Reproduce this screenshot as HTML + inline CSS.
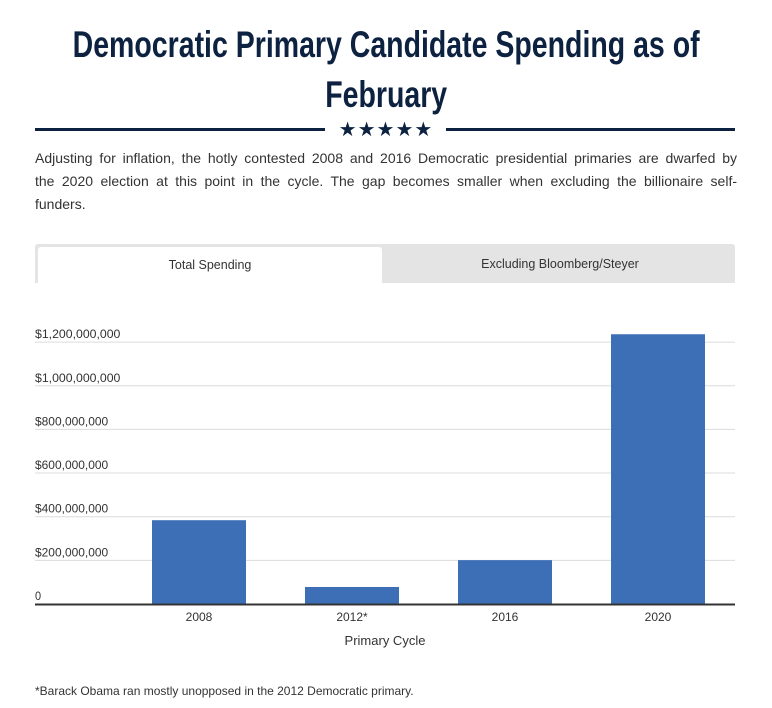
<!DOCTYPE html>
<html><head><meta charset="utf-8"><style>
body{margin:0;background:#fff;width:772px;height:708px;overflow:hidden;font-family:"Liberation Sans",sans-serif;}
.t{position:absolute;left:-200px;width:1172px;text-align:center;font-weight:bold;font-size:37px;line-height:46px;color:#0d2240;white-space:nowrap}
.t span{display:inline-block;transform:scaleX(0.77);transform-origin:center}
.rule{position:absolute;top:128px;height:3px;background:#0d2240}
.stars{position:absolute;left:330px;width:112px;top:117px;text-align:center;color:#0d2240;font-size:20px;letter-spacing:1px}
.dl{position:absolute;left:35px;width:702px;font-size:14px;line-height:23px;color:#333;text-align:justify;text-align-last:justify;white-space:nowrap}
.tabs{position:absolute;left:35px;top:244px;width:700px;height:39px;background:#e4e4e4;border-radius:3px 3px 0 0}
.tab{position:absolute;top:0;height:39px;line-height:40px;text-align:center;font-size:12.5px;color:#333}
.foot{position:absolute;left:35px;top:684px;font-size:12px;color:#333}
</style></head><body>
<div>
<div class="t" style="top:22px"><span>Democratic Primary Candidate Spending as of</span></div>
<div class="t" style="top:72px"><span>February</span></div>
</div>
<div class="rule" style="left:35px;width:290px"></div>
<div class="stars">★★★★★</div>
<div class="rule" style="left:446px;width:289px"></div>
<div>
<div class="dl" style="top:147px">Adjusting for inflation, the hotly contested 2008 and 2016 Democratic presidential primaries are dwarfed by</div>
<div class="dl" style="top:170px">the 2020 election at this point in the cycle. The gap becomes smaller when excluding the billionaire self-</div>
<div class="dl" style="top:193px;text-align-last:left">funders.</div>
</div>
<div class="tabs">
<div class="tab" style="left:3px;width:344px;top:3px;height:36px;line-height:36px;background:#fff;border-radius:3px 3px 0 0">Total Spending</div>
<div class="tab" style="left:350px;width:350px">Excluding Bloomberg/Steyer</div>
</div>
<svg id="chart" width="772" height="708" style="position:absolute;left:0;top:0"></svg>
<div class="foot">*Barack Obama ran mostly unopposed in the 2012 Democratic primary.</div>
<script>
const categories=["2008","2012*","2016","2020"];
const values=[384000000,78000000,201000000,1236000000];
const ticks=[0,200000000,400000000,600000000,800000000,1000000000,1200000000];
const tickLabels=["0","$200,000,000","$400,000,000","$600,000,000","$800,000,000","$1,000,000,000","$1,200,000,000"];
const svg=document.getElementById('chart');
const NS='http://www.w3.org/2000/svg';
const y0=604,pxPer=43.65/200000000;
const y=v=>y0-v*pxPer;
const bandStart=122.5,band=153,barW=94;
const x=i=>bandStart+i*band+band/2;
function mk(t,a){const e=document.createElementNS(NS,t);for(const k in a)e.setAttribute(k,a[k]);svg.appendChild(e);return e;}
ticks.forEach((t,i)=>{
 if(i>0){const g=mk('line',{x1:35,x2:735,y1:y(t),y2:y(t),stroke:'#dcdcdc','stroke-width':1});
 
 }
 const l=mk('text',{x:35,y:y(t)-4,'font-size':12,fill:'#333','font-family':'Liberation Sans, sans-serif',textLength:(tickLabels[i].length*6.1),lengthAdjust:'spacingAndGlyphs'});
 l.textContent=tickLabels[i];
 
 
});
categories.forEach((c,i)=>{
 const r=mk('rect',{x:x(i)-barW/2,y:y(values[i]),width:barW,height:y0-y(values[i]),fill:'#3d6fb6'});
 
 
 const l=mk('text',{x:x(i),y:621,'font-size':12,fill:'#333','text-anchor':'middle','font-family':'Liberation Sans, sans-serif'});
 l.textContent=c;
 
 
});
const ax=mk('line',{x1:35,x2:735,y1:y0+0.5,y2:y0+0.5,stroke:'#333','stroke-width':2});


const xt=mk('text',{x:385,y:645,'font-size':13,fill:'#333','text-anchor':'middle','font-family':'Liberation Sans, sans-serif'});
xt.textContent='Primary Cycle';


</script>
</body></html>
